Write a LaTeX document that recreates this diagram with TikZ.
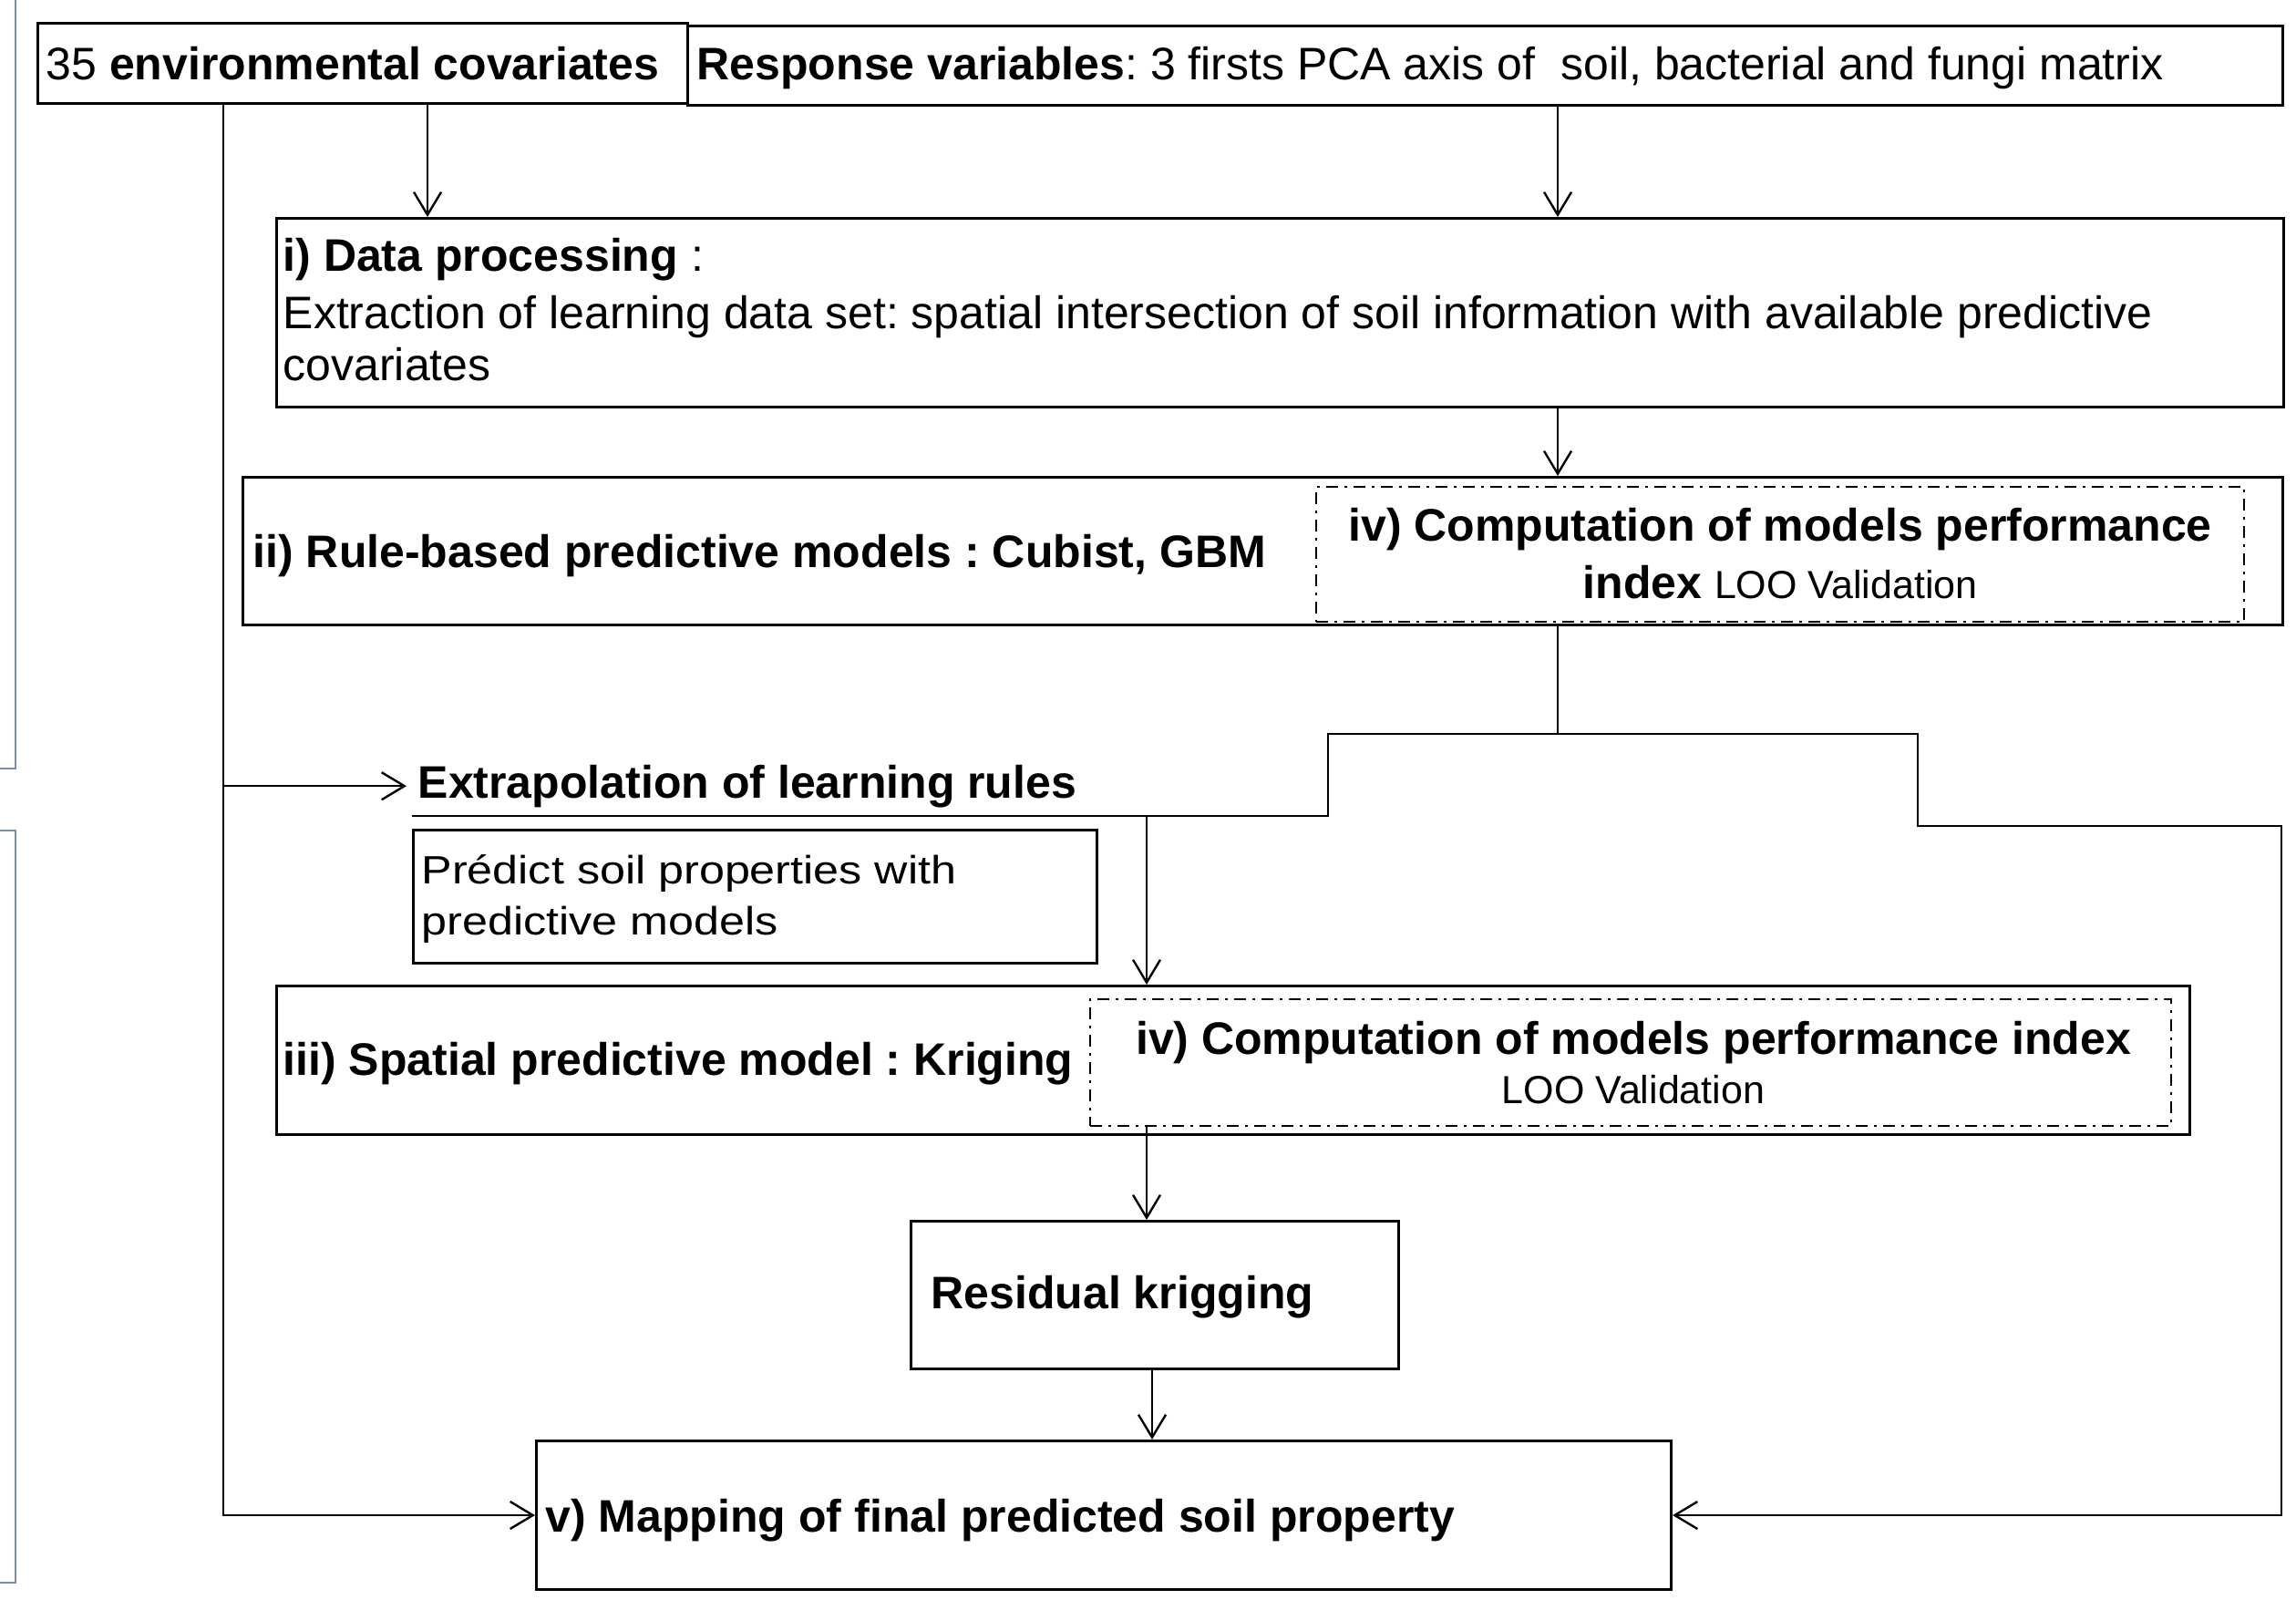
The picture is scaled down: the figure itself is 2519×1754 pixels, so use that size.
\documentclass[tikz,border=0pt]{standalone}
\usepackage{fontspec}
\setmainfont{Liberation Sans}
\newfontfamily\predfont[FakeStretch=1.16]{Liberation Sans}
\usetikzlibrary{arrows.meta}
\definecolor{edgegray}{RGB}{125,143,170}
\frenchspacing
\begin{document}
\begin{tikzpicture}[x=0.3pt,y=-0.3pt,
  box/.style={draw, line width=0.9pt, anchor=north west, inner sep=0pt},
  dbox/.style={draw, line width=0.6pt, dash pattern=on 3.9pt off 2.1pt on 0.9pt off 2.1pt, anchor=north west, inner sep=0pt},
  txt/.style={inner sep=0pt, anchor=base west, font=\fontsize{15}{18}\selectfont},
  ctxt/.style={inner sep=0pt, anchor=base, font=\fontsize{15}{18}\selectfont},
  smalltxt/.style={font=\fontsize{12.9}{15}\selectfont},
  predtxt/.style={font=\predfont\fontsize{13}{15}\selectfont},
  conn/.style={line width=0.72pt},
  arr/.style={conn, -{Straight Barb[length=7.5pt,width=9pt]}},
  gline/.style={draw=edgegray, line width=0.6pt}
]
\useasboundingbox (0,0) rectangle (2519,1754);

% left edge remnants
\draw[gline] (0,843) -- (17,843) -- (17,0);
\draw[gline] (0,911) -- (17,911) -- (17,1736) -- (0,1736);

% boxes
\node[box, minimum width=713*0.3pt, minimum height=88*0.3pt] (A) at (40,24) {};
\node[box, minimum width=1750*0.3pt, minimum height=87*0.3pt] (B) at (753,27) {};
\node[box, minimum width=2202*0.3pt, minimum height=207*0.3pt] (I) at (302,238) {};
\node[box, minimum width=2238*0.3pt, minimum height=162*0.3pt] (II) at (265,522) {};
\node[dbox, minimum width=1018*0.3pt, minimum height=148*0.3pt] (IV1) at (1443,533) {};
\node[box, minimum width=750*0.3pt, minimum height=146*0.3pt] (PRED) at (452,909) {};
\node[box, minimum width=2099*0.3pt, minimum height=163*0.3pt] (III) at (302,1080) {};
\node[dbox, minimum width=1186*0.3pt, minimum height=139*0.3pt] (IV2) at (1195,1095) {};
\node[box, minimum width=535*0.3pt, minimum height=162*0.3pt] (RES) at (998,1338) {};
\node[box, minimum width=1245*0.3pt, minimum height=163*0.3pt] (V) at (587,1579) {};

% texts
\node[txt] (At) at (50,87) {35 \textbf{environmental covariates}};
\node[txt] (Bt) at (764,87) {\textbf{Response variables}: 3 firsts PCA axis of\ \ soil, bacterial and fungi matrix};
\node[txt] (It1) at (310,297) {\textbf{i) Data processing} :};
\node[txt] (It2) at (310,360) {Extraction of learning data set: spatial intersection of soil information with available predictive};
\node[txt] (It3) at (310,417) {covariates};
\node[txt] (IIt) at (277,622) {\textbf{ii) Rule-based predictive models : Cubist, GBM}};
\node[ctxt] (IV1a) at (1953,593) {\textbf{iv) Computation of models performance}};
\node[ctxt] (IV1b) at (1953,656) {\textbf{index} {\fontsize{12.9}{15}\selectfont LOO Validation}};
\node[txt, inner xsep=3.6pt] (EXT) at (446,875) {\textbf{Extrapolation of learning rules}};
\node[txt, predtxt] (PRa) at (462,969) {Prédict soil properties with};
\node[txt, predtxt] (PRb) at (462,1025) {predictive models};
\node[txt] (IIIt) at (310,1179) {\textbf{iii) Spatial predictive model : Kriging}};
\node[ctxt] (IV2a) at (1792,1156) {\textbf{iv) Computation of models performance index}};
\node[ctxt, smalltxt] (IV2b) at (1792,1210) {LOO Validation};
\node[txt] (RESt) at (1021,1435) {\textbf{Residual krigging}};
\node[txt] (Vt) at (598,1680) {\textbf{v) Mapping of final predicted soil property}};

% helper coordinates
\coordinate (xt) at (245,0);
\coordinate (xa) at (469,0);
\coordinate (xb) at (1709,0);
\coordinate (xk) at (1258,0);
\coordinate (xr) at (1264,0);
\coordinate (jl) at (1457,805);
\coordinate (jr) at (2104,805);
\coordinate (ul) at (452,895);
\coordinate (rr) at (2503,906);

% connectors
\draw[arr] (xa |- A.south) -- (xa |- I.north);
\draw[arr] (xb |- B.south) -- (xb |- I.north);
\draw[arr] (xb |- I.south) -- (xb |- II.north);
\draw[conn] (xb |- II.south) -- (xb |- jl);
\draw[arr] (ul) -- (jl |- ul) -- (jl) -- (jr) -- (jr |- rr) -- (rr) -- (rr |- V.east) -- (V.east);
\draw[arr] (xk |- ul) -- (xk |- III.north);
\draw[arr] (xt |- A.south) -- (xt |- V.west) -- (V.west);
\draw[arr] (xt |- EXT.west) -- (EXT.west);
\draw[arr] (xk |- IV2.south) -- (xk |- RES.north);
\draw[arr] (xr |- RES.south) -- (xr |- V.north);
\end{tikzpicture}
\end{document}
